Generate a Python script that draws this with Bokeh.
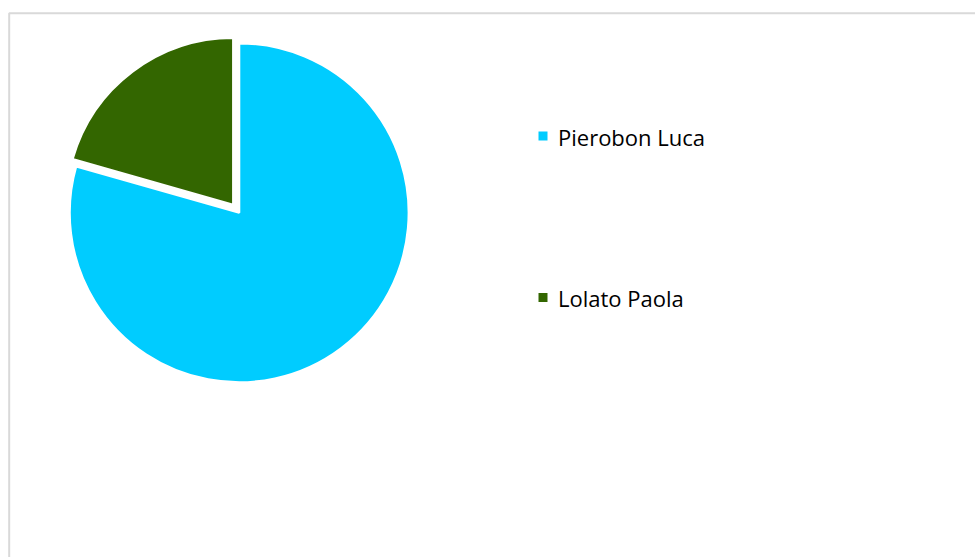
import math
from bokeh.plotting import figure
from bokeh.models import Range1d
from bokeh.core.properties import value
from bokeh.embed import file_html
from bokeh.resources import INLINE

# ---- data ----
names = ["Pierobon Luca", "Lolato Paola"]
values = [27, 7]
colors = ["#00CCFF", "#336600"]
explode = [0, 10]          # px offset of each slice
radii = [169.5, 167.0]

W, H = 975, 557

p = figure(width=W, height=H, output_backend="svg", toolbar_location=None,
           x_range=Range1d(0, W), y_range=Range1d(0, H),
           x_axis_type=None, y_axis_type=None, min_border=0)
p.grid.visible = False
p.outline_line_color = None
p.background_fill_color = "white"
p.border_fill_color = "white"

# chart-area border
p.quad(left=[8.7], right=[W + 20], top=[H - 12.8], bottom=[-20],
       fill_color=None, line_color="#d9d9d9", line_width=2)

# pie (Excel style: first slice starts at 12 o'clock, goes clockwise)
cx, cy = 238.7, H - 212.3
total = float(sum(values))
cum = 0.0
for name, v, c, ex, r in zip(names, values, colors, explode, radii):
    a_end = math.pi / 2 - 2 * math.pi * cum / total
    cum += v
    a_start = math.pi / 2 - 2 * math.pi * cum / total
    mid = (a_start + a_end) / 2
    x0 = cx + ex * math.cos(mid)
    y0 = cy + ex * math.sin(mid)
    p.wedge(x=[x0], y=[y0], radius=r, start_angle=a_start, end_angle=a_end,
            direction="anticlock", fill_color=c, line_color="white",
            line_width=2.2)

# legend
leg_x = 542.5
leg_y0 = H - 135.5
leg_dy = 161.5
for i, (name, c) in enumerate(zip(names, colors)):
    yy = leg_y0 - i * leg_dy
    p.scatter(x=[leg_x], y=[yy], marker="square", size=9, fill_color=c,
              line_color=None)
    p.text(x=[557.5], y=[yy - 0.5], text=[name], text_font=value("Open Sans"),
           text_font_size="22px", text_color="#000000",
           text_baseline="alphabetic", text_align="left")

open("out.html", "w").write(file_html(p, INLINE))
